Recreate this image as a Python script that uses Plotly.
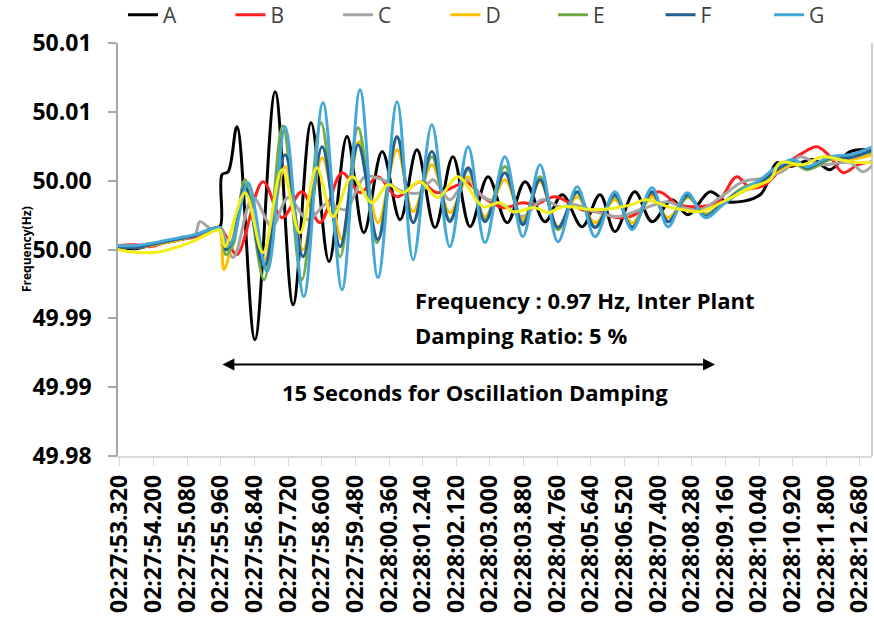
import plotly.graph_objects as go

# ---- tick labels ----
x_tick_labels = ["02:27:53.320", "02:27:54.200", "02:27:55.080", "02:27:55.960",
                 "02:27:56.840", "02:27:57.720", "02:27:58.600", "02:27:59.480",
                 "02:28:00.360", "02:28:01.240", "02:28:02.120", "02:28:03.000",
                 "02:28:03.880", "02:28:04.760", "02:28:05.640", "02:28:06.520",
                 "02:28:07.400", "02:28:08.280", "02:28:09.160", "02:28:10.040",
                 "02:28:10.920", "02:28:11.800", "02:28:12.680"]
y_tick_values = [49.98, 49.985, 49.99, 49.995, 50.0, 50.005, 50.01]
y_tick_labels = ["49.98", "49.99", "49.99", "50.00", "50.00", "50.01", "50.01"]

# time axis: seconds after 02:27:00
# ---- series (time s, frequency Hz) ----
t_A = [53.27, 53.71, 54.24, 54.76, 55.28, 55.73, 55.94, 55.99, 56.15, 56.38, 56.85, 57.38,
       57.85, 58.32, 58.79, 59.26, 59.70, 60.18, 60.65, 61.09, 61.56, 62.03, 62.48, 62.95,
       63.45, 63.92, 64.44, 64.89, 65.41, 65.88, 66.27, 66.79, 67.24, 67.76, 68.18, 68.76,
       69.20, 70.07, 70.51, 70.85, 71.45, 71.90, 72.42, 73.02]
f_A = [49.99521, 49.99506, 49.99542, 49.99564, 49.99601, 49.99651, 49.99666, 50.00044,
       50.00065, 50.00392, 49.98845, 50.00646, 49.99099, 50.00421, 49.99412, 50.00320,
       49.99622, 50.00211, 49.99717, 50.00225, 49.99659, 50.00174, 49.99666, 50.00029,
       49.99695, 49.99993, 49.99702, 49.99898, 49.99666, 49.99898, 49.99630, 49.99920,
       49.99702, 49.99862, 49.99753, 49.99920, 49.99847, 49.99898, 50.00131, 50.00102,
       50.00153, 50.00080, 50.00211, 50.00225]

t_B = [53.27, 53.71, 54.11, 54.50, 54.89, 55.28, 55.73, 55.94, 56.07, 56.38, 57.06, 57.56,
       58.08, 58.55, 59.13, 59.60, 60.07, 60.57, 61.17, 61.61, 62.40, 62.74, 63.34, 63.86,
       64.18, 64.70, 65.41, 65.93, 66.35, 66.79, 67.40, 67.92, 68.31, 68.94, 69.46, 69.80,
       70.20, 70.67, 71.11, 71.56, 71.90, 72.24, 72.63, 73.02]
f_B = [49.99528, 49.99535, 49.99521, 49.99550, 49.99572, 49.99593, 49.99651, 49.99659,
       49.99608, 49.99463, 49.99993, 49.99731, 49.99920, 49.99695, 50.00058, 49.99913,
       50.00029, 49.99884, 49.99993, 49.99913, 49.99985, 49.99898, 49.99804, 49.99840,
       49.99826, 49.99884, 49.99789, 49.99768, 49.99731, 49.99753, 49.99920, 49.99826,
       49.99811, 49.99840, 50.00029, 49.99949, 49.99971, 50.00102, 50.00189, 50.00247,
       50.00174, 50.00058, 50.00116, 50.00138]

t_C = [53.27, 53.71, 54.11, 54.50, 54.89, 55.28, 55.41, 55.73, 55.94, 56.28, 56.80, 57.30,
       57.72, 58.24, 58.76, 59.21, 59.73, 60.18, 60.72, 61.17, 61.51, 61.95, 62.40, 62.82,
       63.34, 63.86, 64.36, 64.83, 65.23, 65.75, 66.35, 66.93, 67.66, 67.97, 68.50, 69.02,
       69.62, 70.20, 70.72, 71.11, 71.64, 72.42, 72.76, 73.02]
f_C = [49.99521, 49.99528, 49.99542, 49.99550, 49.99586, 49.99608, 49.99702, 49.99644,
       49.99659, 49.99441, 49.99877, 49.99666, 49.99877, 49.99717, 49.99840, 49.99789,
       50.00029, 50.00007, 49.99920, 49.99913, 50.00007, 49.99862, 50.00007, 49.99884,
       49.99826, 49.99739, 49.99862, 49.99811, 49.99826, 49.99775, 49.99739, 49.99789,
       49.99847, 49.99811, 49.99789, 49.99877, 49.99993, 50.00022, 50.00080, 50.00174,
       50.00116, 50.00131, 50.00065, 50.00116]

t_D = [53.27, 53.71, 54.24, 54.76, 55.28, 55.73, 55.91, 56.04, 56.28, 56.59, 57.09, 57.64,
       58.11, 58.61, 59.13, 59.57, 60.07, 60.57, 60.99, 61.48, 61.95, 62.43, 62.87, 63.39,
       63.86, 64.31, 64.78, 65.28, 65.75, 66.27, 66.72, 67.24, 67.66, 68.18, 68.63, 69.10,
       69.62, 70.07, 70.51, 70.93, 71.30, 71.90, 72.42, 73.02]
f_D = [49.99521, 49.99513, 49.99535, 49.99564, 49.99601, 49.99644, 49.99651, 49.99354,
       49.99586, 49.99935, 49.99426, 50.00102, 49.99499, 50.00167, 49.99572, 50.00283,
       49.99695, 50.00225, 49.99775, 50.00116, 49.99768, 50.00029, 49.99739, 50.00007,
       49.99717, 49.99993, 49.99666, 49.99884, 49.99695, 49.99862, 49.99695, 49.99884,
       49.99731, 49.99877, 49.99760, 49.99840, 49.99920, 49.99971, 50.00065, 50.00116,
       50.00094, 50.00153, 50.00153, 50.00189]

t_E = [53.27, 53.71, 54.24, 54.76, 55.28, 55.73, 55.94, 56.09, 56.28, 56.59, 57.09, 57.58,
       58.08, 58.58, 59.08, 59.55, 60.04, 60.57, 60.99, 61.48, 61.95, 62.43, 62.87, 63.39,
       63.86, 64.31, 64.78, 65.28, 65.75, 66.27, 66.72, 67.24, 67.66, 68.18, 68.63, 69.10,
       69.62, 70.07, 70.51, 70.93, 71.30, 71.90, 72.42, 73.02]
f_E = [49.99521, 49.99521, 49.99542, 49.99572, 49.99601, 49.99651, 49.99659, 49.99463,
       49.99535, 50.00007, 49.99281, 50.00399, 49.99281, 50.00421, 49.99448, 50.00385,
       49.99550, 50.00312, 49.99695, 50.00174, 49.99717, 50.00080, 49.99717, 50.00102,
       49.99695, 50.00029, 49.99644, 49.99913, 49.99666, 49.99884, 49.99666, 49.99913,
       49.99702, 49.99884, 49.99753, 49.99840, 49.99949, 49.99993, 50.00080, 50.00131,
       50.00080, 50.00153, 50.00174, 50.00211]

t_F = [53.27, 53.71, 54.24, 54.76, 55.28, 55.73, 55.94, 56.09, 56.28, 56.59, 57.09, 57.64,
       58.11, 58.61, 59.08, 59.55, 60.07, 60.57, 60.99, 61.48, 61.95, 62.43, 62.87, 63.39,
       63.86, 64.31, 64.78, 65.28, 65.75, 66.27, 66.72, 67.24, 67.66, 68.18, 68.63, 69.10,
       69.62, 70.07, 70.51, 70.93, 71.30, 71.90, 72.42, 73.02]
f_F = [49.99521, 49.99513, 49.99542, 49.99572, 49.99601, 49.99651, 49.99659, 49.99499,
       49.99572, 49.99956, 49.99375, 50.00189, 49.99448, 50.00247, 49.99521, 50.00261,
       49.99572, 50.00320, 49.99695, 50.00211, 49.99702, 50.00094, 49.99702, 50.00058,
       49.99680, 50.00007, 49.99659, 49.99920, 49.99659, 49.99898, 49.99659, 49.99920,
       49.99702, 49.99898, 49.99739, 49.99840, 49.99935, 49.99985, 50.00080, 50.00138,
       50.00094, 50.00167, 50.00167, 50.00225]

t_G = [53.27, 53.71, 54.24, 54.76, 55.28, 55.73, 55.94, 56.12, 56.28, 56.67, 57.17, 57.64,
       58.13, 58.63, 59.13, 59.60, 60.07, 60.57, 60.99, 61.48, 61.95, 62.43, 62.87, 63.39,
       63.86, 64.31, 64.78, 65.28, 65.75, 66.27, 66.72, 67.24, 67.66, 68.16, 68.63, 69.10,
       69.62, 70.07, 70.51, 70.93, 71.30, 71.90, 72.42, 73.02]
f_G = [49.99528, 49.99528, 49.99550, 49.99579, 49.99608, 49.99651, 49.99659, 49.99521,
       49.99572, 49.99985, 49.99339, 50.00392, 49.99158, 50.00566, 49.99208, 50.00661,
       49.99296, 50.00574, 49.99426, 50.00407, 49.99521, 50.00247, 49.99550, 50.00174,
       49.99593, 50.00116, 49.99557, 49.99956, 49.99593, 49.99920, 49.99644, 49.99949,
       49.99666, 49.99913, 49.99731, 49.99826, 49.99935, 50.00007, 50.00102, 50.00153,
       50.00102, 50.00174, 50.00189, 50.00247]

# bright yellow trace (not listed in the legend)
t_Y = [53.27, 53.58, 53.97, 54.37, 54.76, 55.15, 55.54, 55.81, 55.94, 56.07, 56.59, 57.06,
       57.56, 58.03, 58.47, 58.89, 59.39, 59.91, 60.33, 60.72, 61.17, 61.64, 62.16, 62.82,
       63.26, 63.60, 64.18, 64.52, 64.89, 65.75, 66.72, 67.06, 67.66, 68.05, 68.50, 69.10,
       69.80, 70.33, 70.59, 71.19, 71.71, 72.42, 73.02]
f_Y = [49.99499, 49.99484, 49.99477, 49.99484, 49.99513, 49.99550, 49.99601, 49.99637,
       49.99644, 49.99521, 49.99913, 49.99477, 50.00080, 49.99622, 50.00094, 49.99739,
       50.00029, 49.99840, 49.99971, 49.99913, 49.99993, 49.99877, 50.00029, 49.99811,
       49.99840, 49.99775, 49.99804, 49.99768, 49.99811, 49.99789, 49.99826, 49.99862,
       49.99811, 49.99789, 49.99775, 49.99847, 49.99949, 50.00007, 50.00131, 50.00116,
       50.00174, 50.00138, 50.00131]

series = [
    ("A", t_A, f_A, "#000000", "legend"),
    ("B", t_B, f_B, "#FF1F1F", "legend"),
    ("C", t_C, f_C, "#A5A5A5", "legend"),
    ("D", t_D, f_D, "#FFC000", "legend"),
    ("E", t_E, f_E, "#70AD47", "legend"),
    ("F", t_F, f_F, "#255E91", "legend"),
    ("G", t_G, f_G, "#45A8D8", "legend2"),
    ("Y", t_Y, f_Y, "#F2EE1A", None),
]


def label_seconds(lbl):
    h, m, s = lbl.split(":")
    return (int(m) - 27) * 60 + float(s)


x_tick_values = [label_seconds(l) for l in x_tick_labels]

FONT = "Open Sans"
fig = go.Figure()
for name, t, f, col, leg in series:
    kw = dict(showlegend=False) if leg is None else dict(legend=leg)
    fig.add_trace(go.Scatter(
        x=t, y=f, name=name, mode="lines",
        line=dict(color=col, width=3.0, shape="spline", smoothing=1.0), **kw,
    ))

legend_common = dict(orientation="h", y=1.0678, yanchor="middle", xanchor="left",
                     entrywidth=62.5, entrywidthmode="pixels",
                     font=dict(family=FONT, size=21, color="#404040"),
                     bgcolor="rgba(0,0,0,0)", borderwidth=0)

fig.update_layout(
    width=874, height=622,
    margin=dict(l=118, r=2, t=43, b=166, autoexpand=False),
    paper_bgcolor="white", plot_bgcolor="white",
    font=dict(family=FONT, color="#000000"),
    legend=dict(x=0.0066, **legend_common),
    legend2=dict(x=0.8634, **legend_common),
    xaxis=dict(range=[53.268, 72.996], tickmode="array", tickvals=x_tick_values,
               ticktext=x_tick_labels, tickangle=-90, showgrid=False, zeroline=False,
               showline=True, linecolor="#D9D9D9", linewidth=1.5, automargin=False,
               ticks="outside", ticklen=8, tickcolor="#D9D9D9", tickwidth=1,
               ticklabeloverflow="allow",
               tickfont=dict(family=FONT, size=23, color="#000000", weight="bold")),
    yaxis=dict(range=[49.98, 50.01], tickmode="array", tickvals=y_tick_values,
               ticktext=y_tick_labels, showgrid=False, zeroline=False,
               showline=True, linecolor="#A6A6A6", linewidth=1.5, automargin=False,
               ticks="outside", ticklen=8, tickcolor="#A6A6A6", tickwidth=1.5,
               ticklabelstandoff=12,
               tickfont=dict(family=FONT, size=23, color="#000000", weight="bold")),
)

fig.add_shape(type="line", xref="paper", yref="paper", x0=1, x1=1, y0=0, y1=1,
              line=dict(color="#BFBFBF", width=1.5))

fig.add_annotation(text="<b>Frequency(Hz)</b>", xref="paper", yref="paper",
                   x=0, y=0.5, xshift=-102, textangle=-90, showarrow=False,
                   font=dict(family=FONT, size=12, color="#000000"))

fig.add_annotation(text="<b>Frequency : 0.97 Hz, Inter Plant</b>", x=60.98, y=49.99133,
                   xanchor="left", yanchor="middle", showarrow=False,
                   font=dict(family=FONT, size=22, color="#000000"))
fig.add_annotation(text="<b>Damping Ratio: 5 %</b>", x=60.98, y=49.98882,
                   xanchor="left", yanchor="middle", showarrow=False,
                   font=dict(family=FONT, size=22, color="#000000"))
fig.add_annotation(text="<b>15 Seconds for Oscillation Damping</b>", x=62.61, y=49.98467,
                   xanchor="center", yanchor="middle", showarrow=False,
                   font=dict(family=FONT, size=22, color="#000000"))
fig.add_annotation(x=68.89, y=49.98664, ax=55.96, ay=49.98664, axref="x", ayref="y",
                   text="", showarrow=True, arrowhead=2, arrowside="end+start",
                   arrowsize=1.2, arrowwidth=2, arrowcolor="#000000")

fig.write_html("out.html", config={"displayModeBar": False},
               post_script="document.body.style.margin='0px';")
